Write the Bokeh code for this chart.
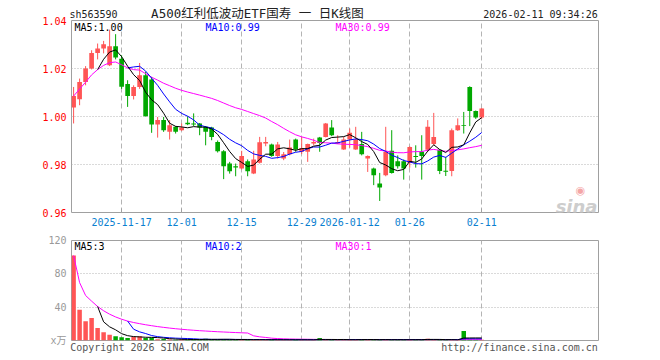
import numpy as np
import pandas as pd
from bokeh.plotting import figure
from bokeh.models import (Range1d, FixedTicker, Label, ColumnDataSource, NumeralTickFormatter,
                          LinearAxis)
from bokeh.layouts import column
from bokeh.embed import file_html
from bokeh.resources import INLINE

# ---------------- data ----------------
symbol = "sh563590"
chart_title = "A500红利低波动ETF国寿 一 日K线图"
stamp = "2026-02-11 09:34:26"
copyright_text = "Copyright 2026 SINA.COM"
site_text = "http://finance.sina.com.cn"
first_day = "2025-11-05"
last_day = "2026-02-11"
holidays = ["2026-01-01", "2026-01-02"]

tick_dates = ["2025-11-17", "2025-12-01", "2025-12-15", "2025-12-29", "2026-01-12", "2026-01-26", "2026-02-11"]
tick_labels = ["2025-11-17", "12-01", "12-15", "12-29", "2026-01-12", "01-26", "02-11"]

opens = [1.0038, 1.0072, 1.0144, 1.0200, 1.0265, 1.0283, 1.0214, 1.0293, 1.0241, 1.0135,
         1.0085, 1.0123, 1.0172, 1.0154, 0.9967, 0.9985, 0.9936, 0.9957, 0.9943, 0.9974,
         0.9971, 0.9971, 0.9957, 0.9954, 0.9894, 0.9855, 0.9804, 0.9793, 0.9783, 0.9814,
         0.9762, 0.9807, 0.9888, 0.9883, 0.9835, 0.9825, 0.9843, 0.9904, 0.9853, 0.9853,
         0.9888, 0.9912, 0.9915, 0.9954, 0.9888, 0.9863, 0.9904, 0.9863, 0.9885, 0.9825,
         0.9783, 0.9721, 0.9755, 0.9857, 0.9814, 0.9814, 0.9807, 0.9835, 0.9853, 0.9861,
         0.9885, 0.9861, 0.9774, 0.9773, 0.9943, 0.9964, 1.0123, 1.0023, 0.9996]
highs = [1.0123, 1.0158, 1.0210, 1.0276, 1.0304, 1.0315, 1.0362, 1.0343, 1.0255, 1.0151,
         1.0130, 1.0223, 1.0186, 1.0165, 0.9998, 0.9998, 0.9985, 0.9960, 0.9971, 1.0001,
         1.0013, 0.9973, 0.9960, 0.9957, 0.9900, 0.9860, 0.9811, 0.9804, 0.9857, 0.9821,
         0.9857, 0.9915, 0.9915, 0.9887, 0.9894, 0.9852, 0.9904, 0.9908, 0.9915, 0.9887,
         0.9908, 0.9915, 0.9973, 0.9985, 0.9922, 0.9915, 0.9950, 0.9957, 0.9936, 0.9838,
         0.9787, 0.9765, 0.9957, 0.9943, 0.9838, 0.9821, 0.9876, 0.9880, 0.9922, 0.9985,
         1.0015, 0.9863, 0.9832, 0.9950, 0.9992, 1.0019, 1.0126, 1.0025, 1.0035]
lows = [0.9971, 1.0047, 1.0130, 1.0196, 1.0238, 1.0263, 1.0210, 1.0238, 1.0115, 1.0040,
        1.0071, 1.0115, 1.0000, 0.9932, 0.9912, 0.9936, 0.9904, 0.9929, 0.9940, 0.9964,
        0.9960, 0.9922, 0.9880, 0.9901, 0.9850, 0.9739, 0.9762, 0.9751, 0.9779, 0.9751,
        0.9760, 0.9804, 0.9876, 0.9832, 0.9825, 0.9818, 0.9838, 0.9853, 0.9843, 0.9811,
        0.9880, 0.9853, 0.9913, 0.9918, 0.9886, 0.9861, 0.9870, 0.9861, 0.9838, 0.9769,
        0.9714, 0.9648, 0.9751, 0.9762, 0.9783, 0.9737, 0.9787, 0.9787, 0.9737, 0.9853,
        0.9880, 0.9760, 0.9752, 0.9751, 0.9940, 0.9929, 0.9960, 0.9990, 0.9990]
closes = [1.0085, 1.0144, 1.0200, 1.0265, 1.0283, 1.0301, 1.0293, 1.0246, 1.0124, 1.0085,
          1.0123, 1.0172, 1.0001, 0.9967, 0.9985, 0.9943, 0.9964, 0.9936, 0.9954, 0.9968,
          0.9967, 0.9954, 0.9936, 0.9915, 0.9855, 0.9793, 0.9772, 0.9788, 0.9835, 0.9772,
          0.9821, 0.9893, 0.9894, 0.9835, 0.9883, 0.9843, 0.9871, 0.9863, 0.9869, 0.9885,
          0.9894, 0.9890, 0.9971, 0.9922, 0.9894, 0.9904, 0.9932, 0.9904, 0.9843, 0.9835,
          0.9755, 0.9704, 0.9853, 0.9765, 0.9793, 0.9783, 0.9873, 0.9831, 0.9835, 0.9957,
          0.9915, 0.9773, 0.9770, 0.9943, 0.9964, 0.9960, 1.0023, 0.9996, 1.0033]
# volume in 万
volumes = [102, 37, 23, 27, 15, 10, 7, 5, 4, 3,
           4.5, 5, 3, 3.2, 1.6, 1.8, 1.2, 1.0, 1.3, 1.0,
           1.4, 1.0, 2.0, 1.2, 1.2, 1.8, 1.0, 0.9, 1.1, 0.9,
           0.8, 1.2, 0.8, 0.9, 0.8, 0.8, 1.0, 0.8, 0.8, 0.9,
           0.6, 3.0, 0.9, 0.8, 0.6, 0.8, 1.8, 0.8, 1.6, 0.8,
           0.9, 1.1, 1.2, 1.0, 0.8, 0.8, 0.9, 1.6, 0.9, 2.2,
           0.9, 0.8, 0.6, 0.9, 0.9, 11.5, 1.2, 0.8, 0.8]

price_ticks = [0.96, 0.98, 1.00, 1.02, 1.04]
vol_ticks = [0, 40, 80, 120]
vol_tick_labels = ["x万", "40", "80", "120"]

# ---------------- derived ----------------
days = [d.strftime("%Y-%m-%d") for d in pd.bdate_range(first_day, last_day)
        if d.strftime("%Y-%m-%d") not in holidays]
n = len(closes)
idx = list(range(n))
tick_idx = [days.index(d) for d in tick_dates]

RED = "#ff5555"
GREEN = "#00a800"
GRID = "#b4b4b4"
BORDER = "#a0a0a0"
MONO = "DejaVu Sans Mono"
MONO_CJK = "DejaVu Sans Mono, Noto Sans CJK SC"

up = [c >= o for o, c in zip(opens, closes)]
colors = [RED if u else GREEN for u in up]
s_close = pd.Series(closes)
ma5 = s_close.rolling(5).mean()
ma10 = s_close.rolling(10).mean()
ma30 = s_close.rolling(30, min_periods=1).mean()
s_vol = pd.Series(volumes, dtype=float)
vma5 = s_vol.rolling(5).mean()
vma10 = s_vol.rolling(10).mean()
vma30 = s_vol.rolling(30, min_periods=1).mean()

src = ColumnDataSource(dict(
    x=idx, o=opens, h=highs, l=lows, c=closes, vol=volumes,
    top=[max(a, b) for a, b in zip(opens, closes)],
    bot=[min(a, b) for a, b in zip(opens, closes)],
    color=colors,
    ma5=ma5.values, ma10=ma10.values, ma30=ma30.values,
    vma5=vma5.values, vma10=vma10.values, vma30=vma30.values,
))

FL, FR, FW = 71, 62, 527
x_range = Range1d(-0.35, 87.45)


def text_axis(p, place, ticks, labels, font, size, color, standoff):
    ax = LinearAxis(x_range_name="canvas", ticker=FixedTicker(ticks=ticks),
                    major_label_overrides={t: s for t, s in zip(ticks, labels)})
    ax.major_tick_line_color = None
    ax.minor_tick_line_color = None
    ax.axis_line_color = None
    ax.major_tick_in = 0
    ax.major_tick_out = 0
    ax.major_label_text_font = font
    ax.major_label_text_font_size = size
    ax.major_label_text_color = color
    ax.major_label_standoff = standoff
    p.add_layout(ax, place)
    return ax


def put(p, frame_bottom, cx, cy, text, **kw):
    p.add_layout(Label(x=cx - FL, y=frame_bottom - cy, x_units="screen", y_units="screen",
                       text=text, **kw))


# ---------------- price panel ----------------
FT1, FH1, FB1 = 20, 192, 20
p1 = figure(frame_width=FW, frame_height=FH1, min_border_left=FL, min_border_right=FR,
            min_border_top=FT1, min_border_bottom=FB1,
            x_range=x_range, y_range=Range1d(price_ticks[0], price_ticks[-1]),
            output_backend="svg", toolbar_location=None, tools="")
p1.extra_x_ranges = {"canvas": Range1d(FL, FL + FW)}
p1.background_fill_color = "white"
p1.border_fill_color = "white"
p1.outline_line_color = BORDER
p1.outline_line_width = 1

p1.segment(x0="x", y0="l", x1="x", y1="h", color="color", line_width=1, source=src)
p1.vbar(x="x", width=0.78, top="top", bottom="bot", fill_color="color", line_color=None, source=src)
p1.line("x", "ma30", color="#ff00ff", line_width=1, source=src)
p1.line("x", "ma10", color="#0000ff", line_width=1, source=src)
p1.line("x", "ma5", color="#000000", line_width=1, source=src)

p1.xaxis.ticker = FixedTicker(ticks=tick_idx)
p1.xaxis.major_label_overrides = {i: t for i, t in zip(tick_idx, tick_labels)}
p1.xaxis.major_tick_in = 4
p1.xaxis.major_tick_out = 0
p1.xaxis.minor_tick_line_color = None
p1.xaxis.major_tick_line_color = BORDER
p1.xaxis.axis_line_color = None
p1.xaxis.major_label_text_color = "#0a7fd0"
p1.xaxis.major_label_text_font = MONO
p1.xaxis.major_label_text_font_size = "10px"
p1.xaxis.major_label_standoff = 5

p1.yaxis.ticker = FixedTicker(ticks=price_ticks)
p1.yaxis.formatter = NumeralTickFormatter(format="0.00")
p1.yaxis.major_tick_in = 0
p1.yaxis.major_tick_out = 0
p1.yaxis.minor_tick_line_color = None
p1.yaxis.axis_line_color = None
p1.yaxis.major_label_text_color = "#ff0000"
p1.yaxis.major_label_text_font = MONO
p1.yaxis.major_label_text_font_size = "10px"
p1.yaxis.major_label_standoff = 5

p1.xgrid.ticker = FixedTicker(ticks=tick_idx)
p1.xgrid.grid_line_color = GRID
p1.xgrid.grid_line_dash = "5 3"
p1.ygrid.ticker = FixedTicker(ticks=price_ticks[1:-1])
p1.ygrid.grid_line_color = GRID
p1.ygrid.grid_line_dash = "1 2"

# header line (two canvas-pixel axes above the frame, sharing one row)
text_axis(p1, "above", [93, 540], [symbol, stamp], MONO, "10px", "#222222", 1)
text_axis(p1, "above", [257], [chart_title], MONO_CJK, "12.5px", "#222222", -15)

fb1 = FT1 + FH1
put(p1, fb1, 74, 27, "MA5:%.2f" % ma5.iloc[-1], text_font=MONO, text_font_size="10px",
    text_color="#000000", text_baseline="middle")
put(p1, fb1, 205, 27, "MA10:%.2f" % ma10.iloc[-1], text_font=MONO, text_font_size="10px",
    text_color="#0000ff", text_baseline="middle")
put(p1, fb1, 335, 27, "MA30:%.2f" % ma30.iloc[-1], text_font=MONO, text_font_size="10px",
    text_color="#ff00ff", text_baseline="middle")
put(p1, fb1, 597, 206, "sina", text_font="DejaVu Sans", text_font_size="18px",
    text_font_style="bold italic", text_color="#cdcdcd", text_align="right",
    text_baseline="alphabetic")
put(p1, fb1, 580, 190, "◉", text_font="DejaVu Sans", text_font_size="11px",
    text_color="#f4a6a6", text_align="center", text_baseline="middle")

# ---------------- volume panel ----------------
FT2, FH2, FB2 = 8, 100, 20
p2 = figure(frame_width=FW, frame_height=FH2, min_border_left=FL, min_border_right=FR,
            min_border_top=FT2, min_border_bottom=FB2,
            x_range=x_range, y_range=Range1d(vol_ticks[0], vol_ticks[-1]),
            output_backend="svg", toolbar_location=None, tools="")
p2.extra_x_ranges = {"canvas": Range1d(FL, FL + FW)}
p2.background_fill_color = "white"
p2.border_fill_color = "white"
p2.outline_line_color = BORDER
p2.outline_line_width = 1

p2.vbar(x="x", width=0.75, top="vol", bottom=0, fill_color="color", line_color=None, source=src)
p2.line("x", "vma30", color="#ff00ff", line_width=1, source=src)
p2.line("x", "vma10", color="#0000ff", line_width=1, source=src)
p2.line("x", "vma5", color="#000000", line_width=1, source=src)

p2.xaxis.visible = False
p2.yaxis.ticker = FixedTicker(ticks=vol_ticks)
p2.yaxis.major_label_overrides = {v: t for v, t in zip(vol_ticks, vol_tick_labels)}
p2.yaxis.major_tick_in = 0
p2.yaxis.major_tick_out = 0
p2.yaxis.minor_tick_line_color = None
p2.yaxis.axis_line_color = None
p2.yaxis.major_label_text_color = "#999999"
p2.yaxis.major_label_text_font = MONO_CJK
p2.yaxis.major_label_text_font_size = "10px"
p2.yaxis.major_label_standoff = 5

p2.xgrid.ticker = FixedTicker(ticks=tick_idx)
p2.xgrid.grid_line_color = GRID
p2.xgrid.grid_line_dash = "5 3"
p2.ygrid.ticker = FixedTicker(ticks=vol_ticks[1:-1])
p2.ygrid.grid_line_color = GRID
p2.ygrid.grid_line_dash = "1 2"

# footer line (canvas-pixel axis below the frame)
text_axis(p2, "below", [139, 519], [copyright_text, site_text], MONO, "10px", "#555555", 1)

fb2 = 232 + FT2 + FH2
put(p2, fb2, 74, 246, "MA5:%.0f" % vma5.iloc[-1], text_font=MONO, text_font_size="10px",
    text_color="#000000", text_baseline="middle")
put(p2, fb2, 205, 246, "MA10:%.0f" % vma10.iloc[-1], text_font=MONO, text_font_size="10px",
    text_color="#0000ff", text_baseline="middle")
put(p2, fb2, 335, 246, "MA30:%.0f" % vma30.iloc[-1], text_font=MONO, text_font_size="10px",
    text_color="#ff00ff", text_baseline="middle")

layout = column(p1, p2, spacing=0)
open("out.html", "w").write(file_html(layout, INLINE))
